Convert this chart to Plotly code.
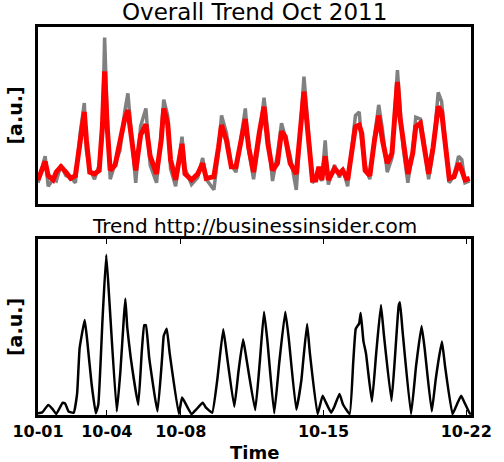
import plotly.graph_objects as go
from plotly.subplots import make_subplots

# hours since 2011-10-01 00:00
top_hours = [0, 8.4, 12, 17.8, 21.5, 27, 32.8, 38.4, 44, 49.6, 54.5, 57, 60.9, 66.5, 72, 75.8,
             78.4, 81.4, 85, 90.8, 96.4, 102, 105.8, 109.5, 115, 120.8, 127, 132, 139.5, 145,
             148, 152.6, 156, 162, 169.5, 173, 180.7, 188, 193.8, 198, 207, 212.5, 216, 221.8,
             227.5, 233, 239, 244, 248, 253.7, 260.4, 266, 270.6, 276, 281.8, 286.6, 291, 296.8,
             304, 309, 313, 317.5, 323, 327, 330.6, 334, 338, 341.7, 349, 354.8, 358.6, 364.4,
             370, 373.6, 378, 381, 385, 390.5, 396, 401, 405.4, 411, 416.6, 423, 426, 429.7,
             435.3, 441, 444.6, 450, 454, 459.7, 465, 471, 475, 480, 484, 489.6, 495, 498.8,
             502.6, 508]
red_vals = [.136, .24, .16, .136, .18, .21, .18, .145, .16, .36, .52, .36, .18, .17, .19, .44,
            .75, .44, .19, .22, .36, .48, .53, .38, .19, .39, .45, .27, .17, .36,
            .54, .456, .25, .136, .34, .17, .136, .17, .23, .145, .154, .32, .446, .36,
            .21, .21, .36, .48, .32, .18, .40, .55, .34, .19, .23, .41, .38, .23,
            .17, .437, .635, .41, .136, .136, .21, .136, .27, .136, .20, .17, .19, .136,
            .305, .437, .446, .40, .19, .16, .36, .50, .36, .23, .286, .69, .49, .36,
            .17, .286, .437, .456, .32, .17, .32, .55, .52, .286, .145, .154, .23, .19,
            .136, .145]
gray_vals = [.12, .27, .10, .14, .13, .22, .16, .15, .12, .40, .57, .30, .20, .14, .22, .38,
             .94, .50, .14, .23, .30, .52, .625, .44, .12, .44, .54, .22, .12, .40,
             .59, .50, .20, .10, .38, .20, .11, .15, .26, .14, .08, .30, .50, .40,
             .22, .18, .38, .54, .30, .14, .36, .60, .40, .13, .28, .456, .38, .27,
             .08, .40, .72, .46, .12, .14, .20, .13, .36, .11, .22, .15, .20, .10,
             .35, .50, .52, .35, .22, .14, .38, .56, .42, .18, .26, .757, .55, .32,
             .12, .30, .49, .48, .36, .14, .30, .63, .58, .30, .12, .16, .27, .25,
             .12, .13]

site_hours = [0, 5, 12, 17, 21.5, 29, 32, 36, 42, 46, 49, 55, 58, 63, 68, 71, 76, 80.3, 84,
              92.7, 97, 101, 102.8, 105, 109, 118, 122, 125, 127, 131, 140.6, 146, 148, 151.5,
              155, 165.7, 169.5, 172, 180.7, 186, 193.8, 198, 205, 211, 218, 222, 231, 236,
              241.4, 245, 255.6, 261, 266, 270, 278, 284, 291, 295, 304, 310, 312, 316.7, 320,
              329, 335, 338, 345, 349, 354.8, 359, 366.8, 371, 374, 378, 379.8, 383, 386, 393,
              398, 403.6, 407, 416, 420, 424.5, 426, 429, 439, 445, 451.4, 455, 463.4, 468,
              471, 475.4, 479, 487.8, 493, 498, 502, 508, 509.6]
site_vals = [.01, .015, .057, .035, .006, .07, .065, .02, .013, .12, .38, .54, .42, .18, .01,
             .06, .55, .91, .65, .02, .25, .55, .66, .50, .33, .057, .35, .51, .51, .32, .02,
             .32, .45, .49, .35, .006, .10, .08, .005, .03, .07, .04, .013, .2, .487, .35,
             .047, .25, .43, .33, .028, .3, .587, .42, .01, .3, .587, .44, .03, .2, .3, .517,
             .35, .005, .11, .08, .013, .05, .12, .06, .005, .3, .49, .52, .58, .42, .35, .075,
             .35, .625, .46, .08, .32, .62, .64, .48, .005, .28, .505, .38, .02, .2, .3, .417,
             .28, .005, .06, .11, .07, .01, .005]

tick_hours = [0, 81, 168, 336, 504]
tick_labels = ["10-01", "10-04", "10-08", "10-15", "10-22"]

fig = make_subplots(rows=2, cols=1)
fig.add_trace(go.Scatter(x=top_hours, y=gray_vals, mode="lines",
                         line=dict(color="#808080", width=3.5)), row=1, col=1)
fig.add_trace(go.Scatter(x=top_hours, y=red_vals, mode="lines",
                         line=dict(color="#ff0000", width=5)), row=1, col=1)
fig.add_trace(go.Scatter(x=site_hours, y=site_vals, mode="lines",
                         line=dict(color="black", width=2.5, shape="spline", smoothing=0.35)),
              row=2, col=1)

frame = dict(showline=True, linecolor="black", linewidth=2.5, mirror=True,
             showgrid=False, zeroline=False)
bold = "DejaVu Sans, Arial Black, sans-serif"

fig.update_xaxes(range=[0, 509.6], **frame)
fig.update_xaxes(domain=[0, 1], showticklabels=False, ticks="", row=1, col=1)
fig.update_xaxes(domain=[0, 1], tickvals=tick_hours, ticktext=tick_labels, ticks="inside",
                 ticklen=5, tickwidth=1, tickcolor="black", mirror="allticks",
                 tickfont=dict(family=bold, size=16, color="black", weight="bold"),
                 row=2, col=1)
fig.update_yaxes(range=[0, 1], showticklabels=False, ticks="", automargin=False,
                 title=dict(text="[a.u.]", standoff=8,
                            font=dict(family=bold, size=19, color="black", weight="bold")),
                 **frame)
fig.update_yaxes(domain=[0.5438, 1], row=1, col=1)
fig.update_yaxes(domain=[0, 0.4536], row=2, col=1)

fig.add_annotation(text="Overall Trend Oct 2011", xref="paper", yref="paper", x=0.5, y=1.0387,
                   yanchor="middle", showarrow=False,
                   font=dict(family="DejaVu Sans", size=23, color="black"))
fig.add_annotation(text="Trend http://businessinsider.com", xref="paper", yref="paper",
                   x=0.5, y=0.487, yanchor="middle", showarrow=False,
                   font=dict(family="DejaVu Sans", size=20, color="black"))
fig.add_annotation(text="Time", xref="paper", yref="paper", x=0.5, y=-0.0954,
                   yanchor="middle", showarrow=False,
                   font=dict(family=bold, size=18, color="black", weight="bold"))

fig.update_layout(width=504, height=462, margin=dict(l=27, r=23, t=27, b=47),
                  plot_bgcolor="white", paper_bgcolor="white", showlegend=False)
fig.write_html("out.html", config={"displayModeBar": False},
               post_script="document.body.style.margin='0';")
